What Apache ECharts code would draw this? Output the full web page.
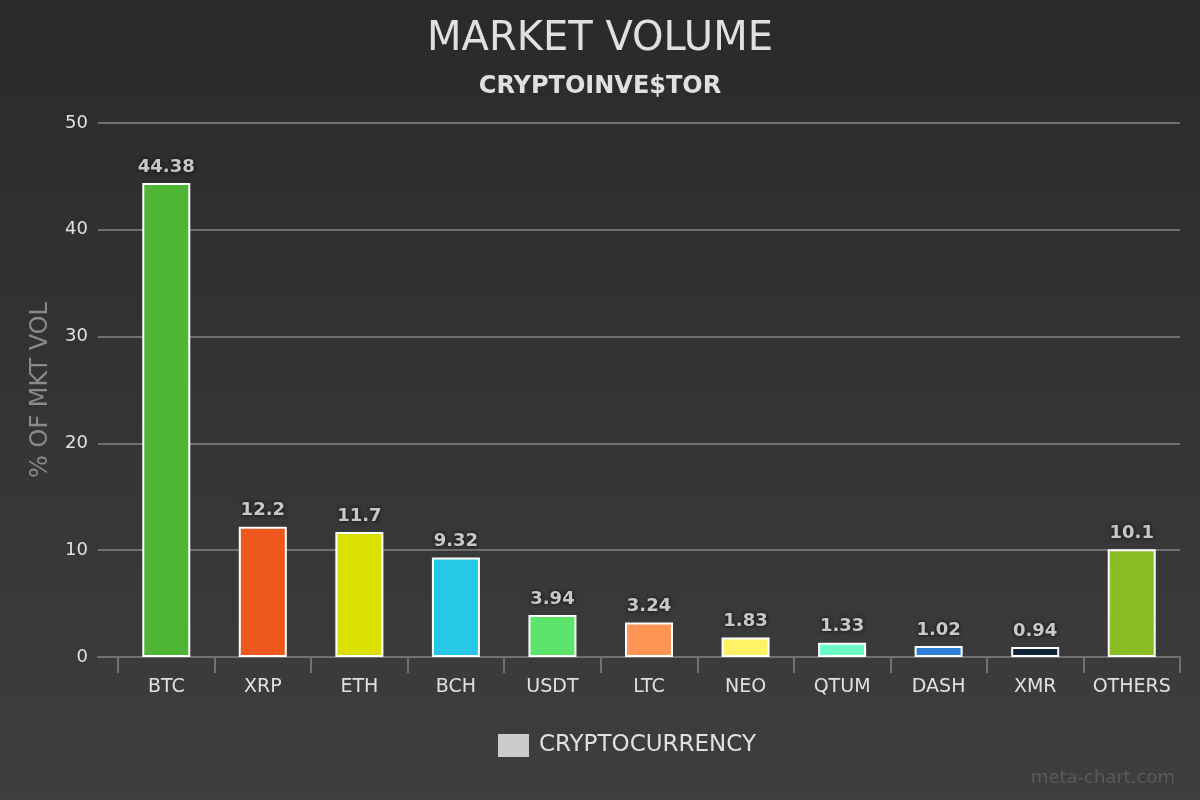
<!DOCTYPE html>
<html>
<head>
<meta charset="utf-8">
<style>
  html, body { margin: 0; padding: 0; background: #333; }
  #chart { width: 1200px; height: 800px; }
</style>
<script src="https://cdn.jsdelivr.net/npm/echarts@6/dist/echarts.min.js"></script>
</head>
<body>
<div id="chart"></div>
<script>
const categories = ['BTC', 'XRP', 'ETH', 'BCH', 'USDT', 'LTC', 'NEO', 'QTUM', 'DASH', 'XMR', 'OTHERS'];
const values = [44.38, 12.2, 11.7, 9.32, 3.94, 3.24, 1.83, 1.33, 1.02, 0.94, 10.1];
const barColors = ['#4fb534', '#ee581d', '#dce000', '#25c8e6', '#5ce46b', '#ff9655', '#fff263', '#6af9c4', '#2f7ed8', '#0d233a', '#8bbc21'];
const yTicks = [0, 10, 20, 30, 40, 50];

const chart = echarts.init(document.getElementById('chart'));
const fontFamily = 'DejaVu Sans';

chart.setOption({
  backgroundColor: {
    type: 'linear', x: 0, y: 0, x2: 0, y2: 1,
    colorStops: [{ offset: 0, color: '#2a2a2b' }, { offset: 1, color: '#3e3e40' }]
  },
  textStyle: { fontFamily: fontFamily },
  title: [
    {
      text: 'MARKET VOLUME',
      left: 'center', top: 15,
      textStyle: { color: '#e0e0e3', fontSize: 40, fontWeight: 'normal', fontFamily: fontFamily }
    },
    {
      text: 'CRYPTOINVE$TOR',
      left: 'center', top: 70,
      textStyle: { color: '#e0e0e3', fontSize: 24, fontWeight: 'bold', fontFamily: fontFamily }
    },
    {
      text: 'meta-chart.com',
      right: 20, bottom: 8,
      textStyle: { color: '#5a5a5c', fontSize: 18, fontWeight: 'normal', fontFamily: fontFamily }
    }
  ],
  legend: {
    data: [{ name: 'CRYPTOCURRENCY', itemStyle: { color: '#cccccc', borderWidth: 0 } }],
    bottom: 38,
    left: 493,
    itemWidth: 31, itemHeight: 23,
    icon: 'rect',
    itemGap: 10,
    textStyle: { color: '#e0e0e3', fontSize: 23, fontFamily: fontFamily, padding: [0, 0, 0, 5] },
    selectedMode: false
  },
  grid: [
    { left: 98, right: 20, top: 123, bottom: 143 },
    { left: 118, right: 20, top: 123, bottom: 143 }
  ],
  xAxis: [
    {
      gridIndex: 0, type: 'value', min: 0, max: 1, show: true,
      axisLine: { show: true, onZero: false, lineStyle: { color: '#707073', width: 2 } },
      axisTick: { show: false }, axisLabel: { show: false }, splitLine: { show: false }
    },
    {
      gridIndex: 1, type: 'category', data: categories,
      axisLine: { show: false },
      axisTick: { show: true, length: 16, interval: 0, lineStyle: { color: '#707073', width: 2 } },
      axisLabel: { color: '#e0e0e3', fontSize: 19, margin: 21, interval: 0, fontFamily: fontFamily },
      splitLine: { show: false }
    }
  ],
  yAxis: [
    {
      gridIndex: 0, type: 'value', min: 0, max: 50, interval: 10,
      name: '% OF MKT VOL', nameLocation: 'middle', nameGap: 45,
      nameTextStyle: { color: '#8a8a8a', fontSize: 24, fontFamily: fontFamily },
      axisLine: { show: false }, axisTick: { show: false },
      axisLabel: {
        color: '#e0e0e3', fontSize: 18, margin: 10, fontFamily: fontFamily,
        formatter: function (v) { return yTicks.indexOf(v) >= 0 ? String(v) : ''; }
      },
      splitLine: { show: true, lineStyle: { color: '#707073', width: 2 } }
    },
    {
      gridIndex: 1, type: 'value', min: 0, max: 50, interval: 10, show: false
    }
  ],
  series: [
    {
      name: 'CRYPTOCURRENCY',
      type: 'bar',
      xAxisIndex: 1, yAxisIndex: 1,
      barWidth: 48,
      data: values.map(function (v, i) {
        return { value: v, itemStyle: { color: barColors[i] } };
      }),
      itemStyle: { borderColor: '#ffffff', borderWidth: 2 },
      label: {
        show: true, position: 'top', distance: 7,
        color: '#c8c8c8', fontSize: 18, fontWeight: 'bold', fontFamily: fontFamily,
        textShadowColor: 'rgba(0,0,0,0.8)', textShadowBlur: 4
      },
      emphasis: { disabled: true }
    }
  ]
});
</script>
</body>
</html>
